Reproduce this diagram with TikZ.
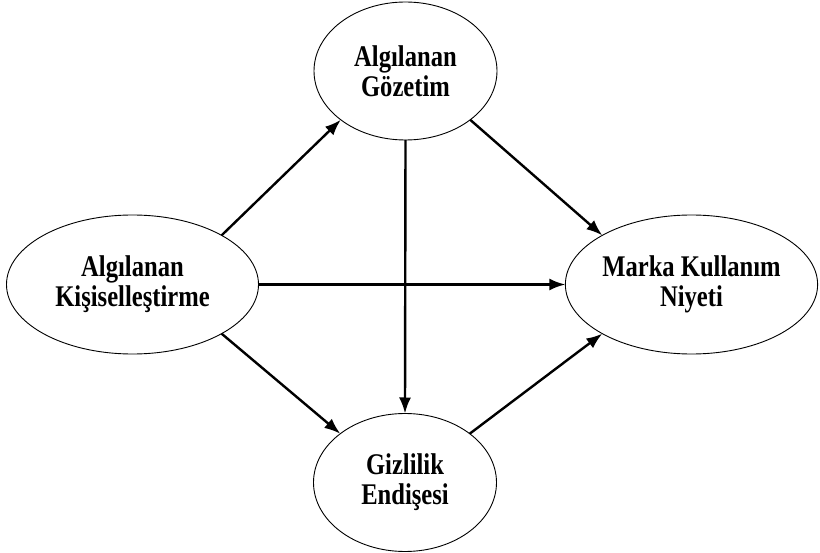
\documentclass[tikz,border=0pt]{standalone}
\usepackage{fontspec}
\setmainfont[FakeStretch=0.82]{Liberation Serif}
\usetikzlibrary{shapes.geometric,arrows.meta}
\begin{document}
\begin{tikzpicture}[x=1pt,y=-1pt,
  var/.style={draw=black,line width=0.9pt,ellipse,inner sep=0pt,outer sep=0pt,
    align=center,font=\fontsize{30}{30}\selectfont\bfseries},
  small/.style={var,minimum width=183pt,minimum height=138pt},
  big/.style={var,minimum width=252pt,minimum height=139pt},
  path/.style={line width=2.4pt,-{Latex[length=16pt,width=12pt]}}]
\useasboundingbox (0,0) rectangle (820,553);
\node[small] (PG) at (405.5,71) {Algılanan\\Gözetim};
\node[big] (AK) at (132.5,284.5) {Algılanan\\Kişiselleştirme};
\node[big] (MK) at (691.5,284.5) {Marka Kullanım\\Niyeti};
\node[small] (GE) at (405,482.5) {Gizlilik\\Endişesi};
\draw[path] (AK.north east) -- (PG.south west);
\draw[path] (PG.south east) -- (MK.north west);
\draw[path] (AK.east) -- (MK.west);
\draw[path] (PG.south) -- (GE.north);
\draw[path] (AK.south east) -- (GE.north west);
\draw[path] (GE.north east) -- (MK.south west);
\end{tikzpicture}
\end{document}
